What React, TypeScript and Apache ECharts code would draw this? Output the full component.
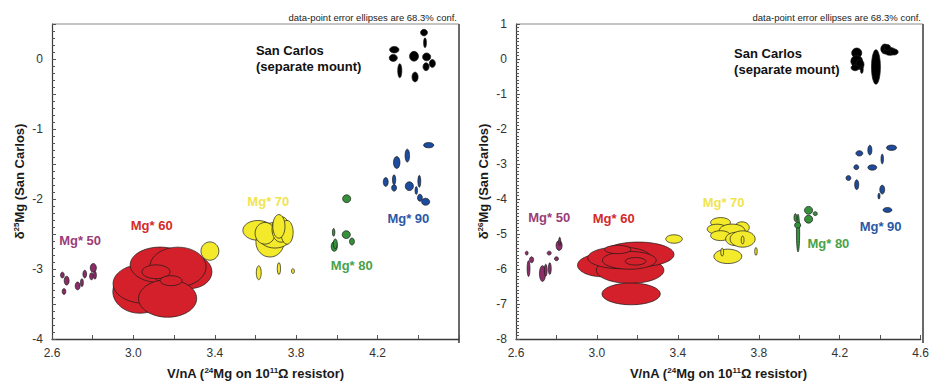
import React, { useEffect, useRef } from "react";
import * as echarts from "echarts";

// Each ellipse: [V/nA, delta, half-width (V/nA), half-height (delta)]
type Ell = [number, number, number, number];

// ---- delta25Mg panel ----
const d25Mg50: Ell[] = [
  [2.651, -3.087, 0.009, 0.042],
  [2.672, -3.167, 0.012, 0.063],
  [2.659, -3.322, 0.009, 0.042],
  [2.726, -3.242, 0.012, 0.056],
  [2.747, -3.195, 0.007, 0.056],
  [2.761, -3.073, 0.009, 0.056],
  [2.803, -2.984, 0.015, 0.063],
  [2.794, -3.104, 0.009, 0.05],
  [2.811, -3.089, 0.007, 0.056],
];
const d25Mg60: Ell[] = [
  [3.032, -3.322, 0.133, 0.31],
  [3.057, -3.209, 0.157, 0.282],
  [3.278, -3.04, 0.108, 0.24],
  [3.131, -2.941, 0.147, 0.254],
  [3.219, -2.97, 0.138, 0.282],
  [3.168, -3.421, 0.143, 0.268],
  [3.111, -3.04, 0.069, 0.099],
  [3.185, -3.167, 0.054, 0.071],
];
const d25Mg70: Ell[] = [
  [3.376, -2.744, 0.044, 0.131],
  [3.612, -2.448, 0.074, 0.141],
  [3.671, -2.617, 0.069, 0.212],
  [3.696, -2.518, 0.084, 0.183],
  [3.647, -2.49, 0.049, 0.155],
  [3.725, -2.434, 0.044, 0.183],
  [3.755, -2.476, 0.03, 0.17],
  [3.715, -2.391, 0.03, 0.169],
  [3.616, -3.054, 0.012, 0.099],
  [3.715, -2.994, 0.008, 0.085],
  [3.784, -3.03, 0.007, 0.035],
];
const d25Mg80: Ell[] = [
  [4.048, -1.996, 0.02, 0.056],
  [3.984, -2.476, 0.006, 0.056],
  [4.046, -2.509, 0.02, 0.056],
  [4.074, -2.607, 0.012, 0.05],
  [3.987, -2.678, 0.015, 0.07],
  [3.992, -2.64, 0.01, 0.07],
];
const d25Mg90: Ell[] = [
  [4.451, -1.231, 0.025, 0.038],
  [4.346, -1.38, 0.011, 0.092],
  [4.294, -1.479, 0.016, 0.085],
  [4.24, -1.757, 0.012, 0.063],
  [4.281, -1.724, 0.008, 0.07],
  [4.281, -1.841, 0.012, 0.047],
  [4.356, -1.817, 0.02, 0.063],
  [4.405, -1.747, 0.007, 0.085],
  [4.39, -1.879, 0.006, 0.056],
  [4.408, -1.982, 0.012, 0.05],
  [4.436, -2.039, 0.02, 0.05],
];
const d25SanCarlos: Ell[] = [
  [4.428, 0.377, 0.017, 0.047],
  [4.433, 0.232, 0.007, 0.07],
  [4.282, 0.133, 0.023, 0.047],
  [4.277, 0.016, 0.02, 0.05],
  [4.379, 0.039, 0.022, 0.07],
  [4.441, 0.03, 0.02, 0.056],
  [4.469, -0.064, 0.015, 0.056],
  [4.438, -0.111, 0.015, 0.056],
  [4.309, -0.167, 0.01, 0.1],
  [4.384, -0.257, 0.015, 0.07],
];

// ---- delta26Mg panel ----
const d26Mg50: Ell[] = [
  [2.653, -5.546, 0.007, 0.056],
  [2.677, -5.735, 0.01, 0.085],
  [2.662, -5.989, 0.007, 0.226],
  [2.731, -6.13, 0.015, 0.226],
  [2.747, -6.034, 0.007, 0.17],
  [2.767, -5.989, 0.007, 0.17],
  [2.764, -5.546, 0.01, 0.056],
  [2.8, -5.707, 0.01, 0.056],
  [2.813, -5.329, 0.015, 0.141],
  [2.816, -5.208, 0.005, 0.113],
];
const d26Mg60: Ell[] = [
  [3.032, -5.893, 0.128, 0.33],
  [3.164, -6.035, 0.167, 0.375],
  [3.204, -5.583, 0.177, 0.353],
  [3.111, -5.679, 0.157, 0.31],
  [3.16, -5.752, 0.133, 0.254],
  [3.103, -5.442, 0.065, 0.119],
  [3.191, -5.78, 0.051, 0.107],
  [3.169, -6.712, 0.144, 0.31],
];
const d26Mg70: Ell[] = [
  [3.381, -5.143, 0.041, 0.121],
  [3.611, -4.672, 0.049, 0.141],
  [3.717, -4.813, 0.036, 0.161],
  [3.594, -4.861, 0.049, 0.141],
  [3.668, -4.906, 0.064, 0.189],
  [3.611, -5.047, 0.049, 0.141],
  [3.685, -5.143, 0.049, 0.189],
  [3.72, -5.143, 0.062, 0.234],
  [3.72, -5.171, 0.007, 0.113],
  [3.647, -5.639, 0.069, 0.206],
  [3.619, -5.518, 0.007, 0.113],
  [3.786, -5.498, 0.006, 0.113],
];
const d26Mg80: Ell[] = [
  [3.994, -4.973, 0.008, 0.54],
  [3.981, -4.531, 0.007, 0.113],
  [3.992, -4.748, 0.015, 0.085],
  [4.046, -4.324, 0.02, 0.113],
  [4.046, -4.578, 0.02, 0.113],
  [4.079, -4.418, 0.01, 0.056],
];
const d26Mg90: Ell[] = [
  [4.456, -2.536, 0.025, 0.076],
  [4.349, -2.603, 0.01, 0.141],
  [4.297, -2.696, 0.017, 0.076],
  [4.41, -2.857, 0.006, 0.141],
  [4.282, -3.091, 0.012, 0.07],
  [4.361, -3.1, 0.022, 0.076],
  [4.243, -3.402, 0.012, 0.07],
  [4.284, -3.591, 0.01, 0.141],
  [4.41, -3.732, 0.012, 0.127],
  [4.394, -3.918, 0.005, 0.085],
  [4.436, -4.313, 0.022, 0.07],
];
const d26SanCarlos: Ell[] = [
  [4.284, 0.173, 0.025, 0.141],
  [4.284, -0.064, 0.029, 0.169],
  [4.3, -0.157, 0.02, 0.141],
  [4.276, -0.25, 0.02, 0.085],
  [4.309, -0.298, 0.007, 0.113],
  [4.379, -0.227, 0.022, 0.494],
  [4.423, 0.286, 0.02, 0.141],
  [4.448, 0.218, 0.03, 0.113],
  [4.469, 0.201, 0.02, 0.085],
  [4.436, 0.331, 0.015, 0.085],
];

// Group labels: [text, V/nA, delta]
type Lbl = [string, number, number];
const labels25: Lbl[] = [
  ["Mg* 50", 2.738, -2.589],
  ["Mg* 60", 3.09, -2.382],
  ["Mg* 70", 3.663, -2.029],
  ["Mg* 80", 4.073, -2.946],
  ["Mg* 90", 4.351, -2.274],
];
const labels26: Lbl[] = [
  ["Mg* 50", 2.764, -4.53],
  ["Mg* 60", 3.083, -4.55],
  ["Mg* 70", 3.626, -4.088],
  ["Mg* 80", 4.144, -5.264],
  ["Mg* 90", 4.402, -4.793],
];
const sanCarlosLines = ["San Carlos", "(separate mount)"];
const sanCarlosPos25: [number, number] = [3.602, 0.009];
const sanCarlosPos26: [number, number] = [3.678, -0.078];

const xTicks = { min: 2.6, max: 4.6, step: 0.4 };
const y25Ticks = { min: -4, max: 0.5, step: 0.5 };
const y26Ticks = { min: -8, max: 1, step: 1 };

const note = "data-point error ellipses are 68.3% conf.";

const FONT = '"Liberation Sans", Arial, Helvetica, sans-serif';
const groupFill = ["#8c2d68", "#d4202a", "#f4ea2c", "#34913a", "#1d4c9e", "#000000"];
const groupText = ["#9a3c78", "#d42a2a", "#efe451", "#4aa24a", "#2a58a6", "#000000"];

function ellipseSeries(data: Ell[], fill: string, idx: number) {
  return {
    type: "custom",
    xAxisIndex: idx,
    yAxisIndex: idx,
    data,
    dimensions: ["x", "y", "rx", "ry"],
    encode: { x: 0, y: 1 },
    clip: true,
    renderItem: (_params: any, api: any) => {
      const c = api.coord([api.value(0), api.value(1)]);
      const s = api.size([api.value(2), api.value(3)]);
      return {
        type: "ellipse",
        shape: { cx: c[0], cy: c[1], rx: s[0], ry: s[1] },
        style: { fill, stroke: "#1a1a1a", lineWidth: 0.7 },
      };
    },
  };
}

// Group names placed at data coordinates; the last item is the San Carlos note (left-aligned).
function labelSeries(lbls: Lbl[], sc: [number, number], idx: number) {
  const data = [...lbls.map((l) => [l[1], l[2]]), sc];
  return {
    type: "custom",
    xAxisIndex: idx,
    yAxisIndex: idx,
    data,
    encode: { x: 0, y: 1 },
    silent: true,
    renderItem: (params: any, api: any) => {
      const i = params.dataIndex;
      const c = api.coord([api.value(0), api.value(1)]);
      const isSc = i >= lbls.length;
      return {
        type: "text",
        x: c[0],
        y: c[1],
        style: {
          text: isSc ? sanCarlosLines.join("\n") : lbls[i][0],
          fill: isSc ? "#111" : groupText[i],
          font: `bold 13px ${FONT}`,
          align: isSc ? "left" : "center",
          verticalAlign: "middle",
          lineHeight: 16,
        },
      };
    },
  };
}

const nameRich = {
  t: { fontFamily: FONT, fontWeight: "bold", fontSize: 13, color: "#1a1a1a", lineHeight: 15 },
  s: { fontFamily: FONT, fontWeight: "bold", fontSize: 8, color: "#1a1a1a", verticalAlign: "top", lineHeight: 15 },
};

function xAxis(idx: number, hideMax: boolean) {
  return {
    type: "value",
    gridIndex: idx,
    min: xTicks.min,
    max: xTicks.max,
    interval: xTicks.step,
    name: "{t|V/nA (}{s|24}{t|Mg on 10}{s|11}{t|Ω resistor)}",
    nameLocation: "middle",
    nameGap: 27,
    nameTextStyle: { rich: nameRich },
    axisLine: { show: true, onZero: false, lineStyle: { color: "#3a3a3a", width: 1.3 } },
    axisTick: { show: true, inside: true, length: 4, lineStyle: { color: "#555" } },
    minorTick: { show: true, splitNumber: 2, length: 4, lineStyle: { color: "#555" } },
    splitLine: { show: false },
    axisLabel: {
      fontFamily: FONT,
      fontSize: 12,
      color: "#333",
      margin: 8,
      showMaxLabel: !hideMax,
      formatter: (v: number) => v.toFixed(1),
    },
  };
}

function yAxis(idx: number, t: { min: number; max: number; step: number }, minor: number, iso: string) {
  return {
    type: "value",
    gridIndex: idx,
    min: t.min,
    max: t.max,
    interval: t.step,
    name: `{t|δ}{s|${iso}}{t|Mg (San Carlos)}`,
    nameLocation: "middle",
    nameGap: 25,
    nameRotate: 90,
    nameTextStyle: { rich: nameRich },
    axisLine: { show: true, onZero: false, lineStyle: { color: "#3a3a3a", width: 1.2 } },
    axisTick: { show: true, inside: true, length: 4, lineStyle: { color: "#555" } },
    minorTick: { show: true, splitNumber: minor, length: 3, lineStyle: { color: "#555" } },
    splitLine: { show: false },
    axisLabel: {
      fontFamily: FONT,
      fontSize: 12,
      color: "#333",
      margin: 9,
      formatter: (v: number) => (Math.abs(v - Math.round(v)) < 1e-6 ? String(Math.round(v)) : ""),
    },
  };
}

export default function App() {
  const ref = useRef<HTMLDivElement>(null);

  useEffect(() => {
    if (!ref.current) return;
    const chart = echarts.init(ref.current, null, { renderer: "svg" });
    const grids = [
      { left: 52, top: 24, width: 407, height: 319 },
      { left: 516, top: 24, width: 407, height: 319 },
    ];
    const series: any[] = [];
    [d25Mg50, d25Mg60, d25Mg70, d25Mg80, d25Mg90, d25SanCarlos].forEach((d, i) =>
      series.push(ellipseSeries(d, groupFill[i], 0))
    );
    [d26Mg50, d26Mg60, d26Mg70, d26Mg80, d26Mg90, d26SanCarlos].forEach((d, i) =>
      series.push(ellipseSeries(d, groupFill[i], 1))
    );
    series.push(labelSeries(labels25, sanCarlosPos25, 0));
    series.push(labelSeries(labels26, sanCarlosPos26, 1));

    const frame = (g: any) => [
      { type: "line", shape: { x1: g.left, y1: g.top, x2: g.left + g.width, y2: g.top }, style: { stroke: "#8a8a8a", lineWidth: 1 } },
      { type: "line", shape: { x1: g.left + g.width, y1: g.top, x2: g.left + g.width, y2: g.top + g.height }, style: { stroke: "#6a6a6a", lineWidth: 2 } },
      {
        type: "text",
        x: g.left + g.width - 2,
        y: g.top - 7,
        style: { text: note, font: `9.5px ${FONT}`, fill: "#222", align: "right", verticalAlign: "middle" },
      },
    ];

    chart.setOption({
      animation: false,
      backgroundColor: "#ffffff",
      grid: grids,
      xAxis: [xAxis(0, true), xAxis(1, false)],
      yAxis: [yAxis(0, y25Ticks, 5, "25"), yAxis(1, y26Ticks, 10, "26")],
      series,
      graphic: [...frame(grids[0]), ...frame(grids[1])],
    });
    return () => chart.dispose();
  }, []);

  return (
    <div
      ref={ref}
      style={{ position: "fixed", left: 0, top: 0, width: 932, height: 385, background: "#fff" }}
    />
  );
}
